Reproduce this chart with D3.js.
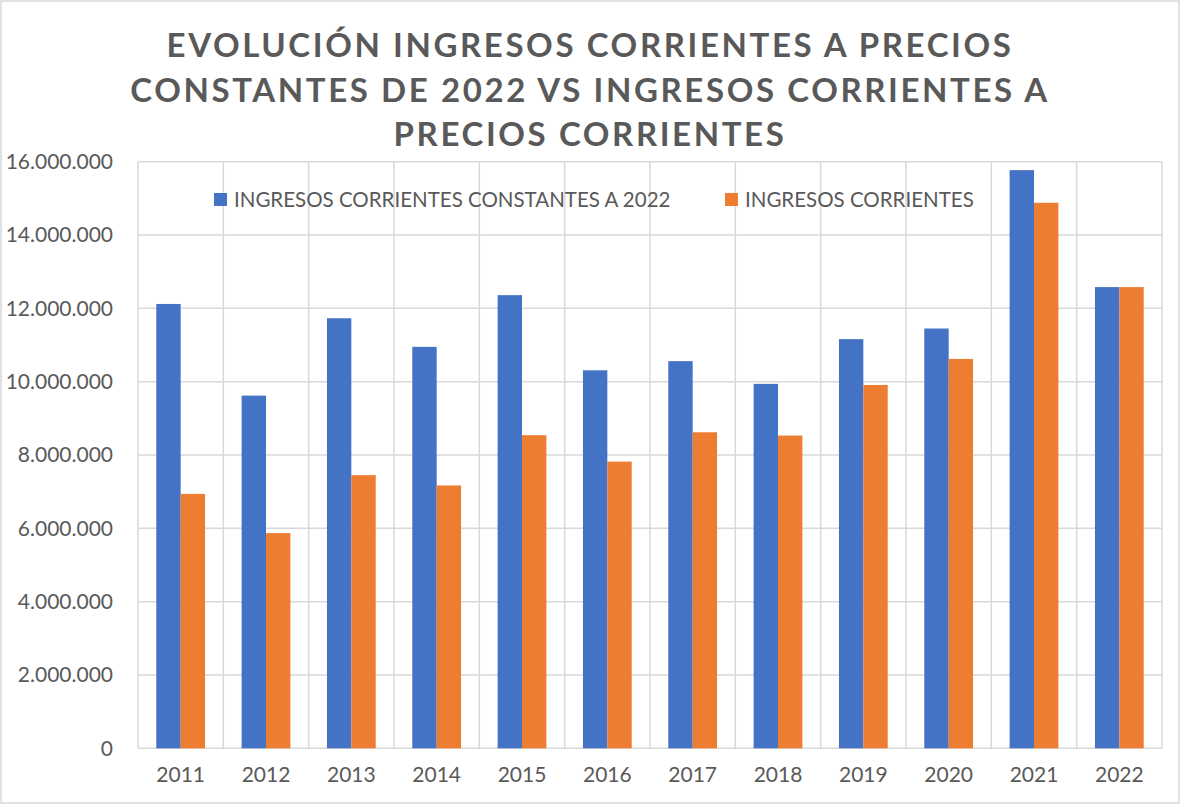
<!DOCTYPE html>
<html>
<head>
<meta charset="utf-8">
<script src="https://cdn.jsdelivr.net/npm/d3@7"></script>
<style>
  body { margin: 0; background: #fff; }
  text { font-family: Lato, "Open Sans", sans-serif; fill: #595959; }
</style>
</head>
<body>
<script>
var years = ["2011", "2012", "2013", "2014", "2015", "2016", "2017", "2018", "2019", "2020", "2021", "2022"];
var constantes = [12120000, 9620000, 11730000, 10950000, 12360000, 10310000, 10560000, 9940000, 11160000, 11450000, 15770000, 12580000];
var corrientes = [6940000, 5870000, 7450000, 7170000, 8540000, 7820000, 8620000, 8530000, 9910000, 10620000, 14880000, 12580000];
var seriesNames = ["INGRESOS CORRIENTES CONSTANTES A 2022", "INGRESOS CORRIENTES"];
var titleLines = ["EVOLUCIÓN INGRESOS CORRIENTES A PRECIOS", "CONSTANTES DE 2022 VS INGRESOS CORRIENTES A", "PRECIOS CORRIENTES"];
var yTicks = [0, 2000000, 4000000, 6000000, 8000000, 10000000, 12000000, 14000000, 16000000];

var colors = ["#4472C4", "#ED7D31"];
var w = 1180, h = 804;
var margin = { top: 161.7, right: 18, bottom: 55.7, left: 138 };
var width = w - margin.left - margin.right,
  height = h - margin.top - margin.bottom;

var locale = d3.formatLocale({ decimal: ",", thousands: ".", grouping: [3], currency: ["", ""] });
var fmt = locale.format(",.0f");

var svg = d3.select("body").append("svg")
  .attr("width", w)
  .attr("height", h);

svg.append("rect")
  .attr("x", 1).attr("y", 1)
  .attr("width", w - 2).attr("height", h - 2)
  .attr("fill", "#fff")
  .attr("stroke", "#d9d9d9")
  .attr("stroke-width", 1.5);

svg.append("g")
  .attr("class", "title")
  .selectAll("text")
  .data(titleLines)
  .enter().append("text")
  .attr("x", w / 2)
  .attr("y", function (d, i) { return 57 + i * 44.5; })
  .attr("text-anchor", "middle")
  .style("font-size", "33px")
  .style("font-weight", "bold")
  .style("letter-spacing", "2.6px")
  .text(function (d) { return d; });

var x = d3.scaleBand()
  .domain(years)
  .range([0, width]);

var x1 = d3.scaleBand()
  .domain([0, 1])
  .range([0, x.bandwidth()])
  .paddingOuter(0.75)
  .paddingInner(0);

var y = d3.scaleLinear()
  .domain([0, 16000000])
  .range([height, 0]);

var focus = svg.append("g")
  .attr("transform", "translate(" + margin.left + "," + margin.top + ")");

// grid lines
focus.append("g")
  .attr("class", "grid")
  .selectAll("line.h")
  .data(yTicks)
  .enter().append("line")
  .attr("x1", 0).attr("x2", width)
  .attr("y1", function (d) { return y(d); })
  .attr("y2", function (d) { return y(d); })
  .attr("stroke", "#d9d9d9")
  .attr("stroke-width", 1.5);

focus.append("g")
  .attr("class", "grid")
  .selectAll("line")
  .data(years.concat(["end"]))
  .enter().append("line")
  .attr("x1", function (d, i) { return i * x.step(); })
  .attr("x2", function (d, i) { return i * x.step(); })
  .attr("y1", 0).attr("y2", height)
  .attr("stroke", "#d9d9d9")
  .attr("stroke-width", 1.5);

// bars
var groups = focus.append("g")
  .attr("class", "bars")
  .selectAll("g")
  .data(years)
  .enter().append("g")
  .attr("transform", function (d) { return "translate(" + x(d) + ",0)"; });

groups.selectAll("rect")
  .data(function (d, i) { return [constantes[i], corrientes[i]]; })
  .enter().append("rect")
  .attr("x", function (d, j) { return x1(j); })
  .attr("width", x1.bandwidth())
  .attr("y", function (d) { return y(d); })
  .attr("height", function (d) { return height - y(d); })
  .attr("fill", function (d, j) { return colors[j]; });

// axes
var yAxis = d3.axisLeft(y)
  .tickValues(yTicks)
  .tickFormat(fmt)
  .tickSize(0)
  .tickPadding(25);

focus.append("g")
  .attr("class", "y axis")
  .call(yAxis)
  .call(function (g) { g.select(".domain").remove(); })
  .selectAll("text")
  .style("font-size", "21px")
  .attr("fill", "#595959");

var xAxis = d3.axisBottom(x)
  .tickSize(0)
  .tickPadding(19);

focus.append("g")
  .attr("class", "x axis")
  .attr("transform", "translate(0," + height + ")")
  .call(xAxis)
  .call(function (g) { g.select(".domain").remove(); })
  .selectAll("text")
  .style("font-size", "21px")
  .attr("fill", "#595959");

// legend
var legendX = [214, 725];
var legend = svg.append("g")
  .attr("class", "legend")
  .selectAll("g")
  .data(seriesNames)
  .enter().append("g")
  .attr("transform", function (d, i) { return "translate(" + legendX[i] + ",193)"; });

legend.append("rect")
  .attr("width", 13).attr("height", 13)
  .attr("fill", function (d, i) { return colors[i]; });

legend.append("text")
  .attr("x", 20)
  .attr("y", 14)
  .style("font-size", "20.5px")
  .text(function (d) { return d; });
</script>
</body>
</html>
